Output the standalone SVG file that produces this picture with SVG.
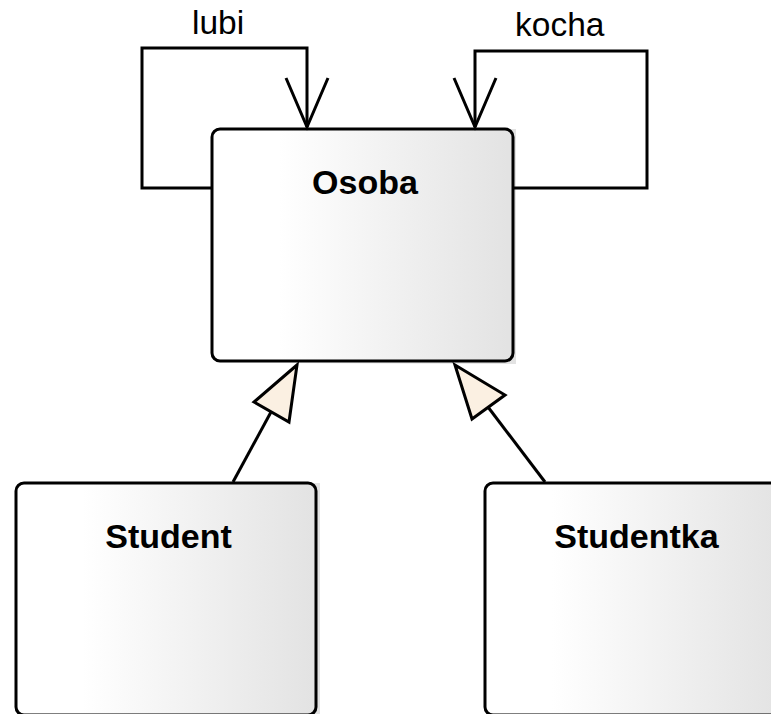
<svg xmlns="http://www.w3.org/2000/svg" width="771" height="714" viewBox="0 0 771 714">
  <style>
    .box { fill: none; stroke: #000; stroke-width: 3; }
    .name { font-family: "Liberation Sans", Arial, sans-serif; font-size: 34px; font-weight: bold; text-anchor: middle; fill: #000; }
    .label { font-family: "Liberation Sans", Arial, sans-serif; font-size: 33.5px; fill: #000; }
    .line { fill: none; stroke: #000; stroke-width: 3; stroke-linejoin: miter; }
    .head { fill: #fbf0e2; stroke: #000; stroke-width: 3; stroke-linejoin: miter; }
  </style>
  <defs>
    <linearGradient id="classFill" x1="0" y1="0" x2="1" y2="0">
      <stop offset="0" stop-color="#ffffff"/>
      <stop offset="0.22" stop-color="#ffffff"/>
      <stop offset="1" stop-color="#e2e2e2"/>
    </linearGradient>
  </defs>

  <rect width="771" height="714" fill="#ffffff"/>

  <!-- class Osoba -->
  <g id="osoba">
    <rect x="212" y="129" width="304" height="235" fill="url(#classFill)"/>
    <rect class="box" x="212" y="129" width="301" height="232" rx="8" ry="8"/>
    <text class="name" x="365" y="194">Osoba</text>
  </g>

  <!-- class Student -->
  <g id="student">
    <rect x="16" y="483" width="304" height="235" fill="url(#classFill)"/>
    <rect class="box" x="16" y="483" width="300" height="232" rx="8" ry="8"/>
    <text class="name" x="168.5" y="548">Student</text>
  </g>

  <!-- class Studentka -->
  <g id="studentka">
    <rect x="485" y="483" width="304" height="235" fill="url(#classFill)"/>
    <rect class="box" x="485" y="483" width="301" height="232" rx="8" ry="8"/>
    <text class="name" x="636.5" y="548">Studentka</text>
  </g>

  <!-- associations and generalizations -->
  <g id="connectors">
    <!-- lubi: self association on Osoba -->
    <polyline class="line" points="212,188 142,188 142,48 307,48 307,127"/>
    <polyline class="line" points="286,78 307,127 328,78"/>
    <text class="label" x="192" y="34">lubi</text>

    <!-- kocha: self association on Osoba -->
    <polyline class="line" points="513,188 647,188 647,51 475,51 475,127"/>
    <polyline class="line" points="454,78 475,127 496,78"/>
    <text class="label" x="515" y="36">kocha</text>

    <!-- Student generalizes to Osoba -->
    <line class="line" x1="233" y1="482" x2="271" y2="412"/>
    <polygon class="head" points="297,365 254,402 289,422"/>

    <!-- Studentka generalizes to Osoba -->
    <line class="line" x1="545" y1="482" x2="488" y2="407"/>
    <polygon class="head" points="455,365 505,395 472,419"/>
  </g>
</svg>
